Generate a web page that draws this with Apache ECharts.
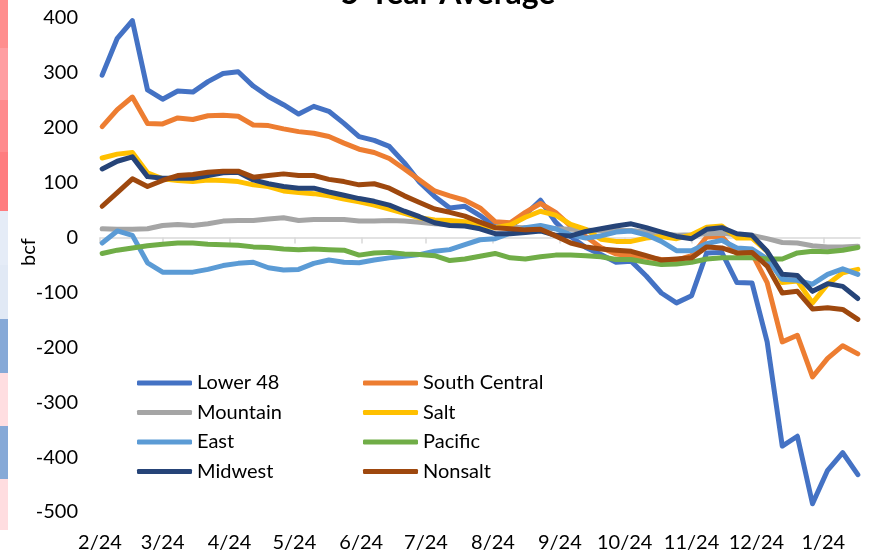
<!DOCTYPE html>
<html lang="en">
<head>
<meta charset="UTF-8">
<title>5-Year Average</title>
<style>
  html, body { margin: 0; padding: 0; background: #fff; }
  #main { width: 871px; height: 554px; }
</style>
</head>
<body>
<div id="main"></div>
<script src="https://cdn.jsdelivr.net/npm/echarts@6/dist/echarts.min.js"></script>
<script>
// weekly points, first report 2024-02-02, counted in days from 2024-02-01
const startDay = 1;
const weekCount = 51;
const weekDays = [];
for (let i = 0; i < weekCount; i++) weekDays.push(startDay + 7 * i);

// month ticks (days from 2024-02-01) and their labels
const monthDays = [0, 29, 60, 90, 121, 151, 182, 213, 243, 274, 304, 335];
const monthLabels = ['2/24', '3/24', '4/24', '5/24', '6/24', '7/24', '8/24', '9/24', '10/24', '11/24', '12/24', '1/24'];

const names = ['Lower 48', 'South Central', 'Mountain', 'Salt', 'East', 'Pacific', 'Midwest', 'Nonsalt'];
const colors = ['#4472C4', '#ED7D31', '#A5A5A5', '#FFC000', '#5B9BD5', '#70AD47', '#264478', '#9E480E'];

const lower48 = [296, 363, 395, 269, 252, 267, 265, 284, 299, 302, 276, 257, 242, 225, 239, 230, 208, 184, 177, 166,
  136, 101, 75, 54, 57, 40, 20, 19, 42, 68, 28, 2, -18, -31, -45, -43, -70, -101, -119, -106,
  -28, -27, -82, -83, -190, -380, -362, -485, -424, -392, -432];
const southCentral = [202, 233, 256, 208, 207, 218, 215, 222, 223, 221, 205, 204, 198, 193, 190, 184, 172, 161, 155, 144,
  125, 105, 85, 76, 68, 54, 29, 27, 46, 62, 46, 21, 2, -18, -30, -33, -36, -40, -41, -33,
  1, 2, -29, -29, -82, -190, -178, -254, -220, -197, -212];
const mountain = [16, 15, 15, 16, 22, 24, 22, 25, 30, 31, 31, 34, 36, 31, 33, 33, 33, 30, 30, 31,
  30, 28, 25, 24, 22, 21, 19, 19, 18, 18, 16, 15, 14, 12, 13, 13, 10, 7, 4, 5,
  7, 8, 5, 4, -2, -9, -10, -15, -17, -17, -16];
const salt = [145, 152, 155, 118, 107, 104, 102, 105, 104, 102, 96, 93, 85, 82, 80, 76, 70, 65, 59, 52,
  44, 36, 32, 31, 29, 23, 18, 23, 37, 48, 41, 24, 15, -3, -7, -7, -1, 2, -2, 5,
  19, 21, -1, -1, -25, -82, -79, -119, -85, -64, -58];
const east = [-10, 12, 4, -46, -63, -63, -63, -58, -51, -47, -45, -55, -59, -58, -47, -41, -45, -46, -41, -37,
  -34, -31, -25, -22, -13, -4, -2, 8, 18, 22, 16, 5, -1, 3, 10, 12, 5, -7, -24, -24,
  -11, -5, -19, -21, -39, -76, -78, -85, -67, -57, -67];
const pacific = [-29, -23, -19, -15, -12, -10, -10, -12, -13, -14, -17, -18, -21, -22, -21, -22, -23, -32, -28, -27,
  -30, -31, -33, -42, -39, -34, -29, -37, -39, -35, -32, -32, -33, -35, -40, -40, -45, -49, -48, -45,
  -39, -37, -37, -37, -39, -39, -28, -25, -26, -23, -18];
const midwest = [125, 139, 147, 111, 108, 108, 108, 113, 118, 119, 105, 98, 93, 90, 90, 83, 77, 71, 66, 59,
  48, 38, 27, 22, 21, 16, 7, 7, 9, 12, 4, 3, 11, 16, 21, 25, 18, 10, 2, -2,
  15, 18, 7, 4, -25, -67, -69, -98, -84, -89, -111];
const nonsalt = [57, 82, 107, 93, 104, 113, 115, 119, 121, 121, 110, 113, 116, 113, 113, 106, 102, 96, 98, 90,
  76, 64, 52, 46, 39, 28, 18, 16, 14, 15, 3, -10, -17, -21, -23, -25, -33, -41, -39, -37,
  -17, -19, -28, -27, -52, -101, -98, -130, -128, -131, -149];

const seriesValues = [lower48, southCentral, mountain, salt, east, pacific, midwest, nonsalt];

// the colour strip on the left edge of the screenshot
const stripColors = ['#FF8E8E', '#FF9EA2', '#FF8A8D', '#FF7C7F', '#E5ECF7', '#E1E9F5', '#86A9D7', '#FFDEE1', '#86A9D7', '#FFDDE0'];
const stripEdges = [0, 48, 100, 152, 211, 265, 319, 373, 426, 479, 530];

const FONT = 'Lato';

var chart = echarts.init(document.getElementById('main'));

const series = names.map((n, k) => ({
  name: n,
  type: 'line',
  xAxisIndex: 0,
  symbol: 'none',
  animation: false,
  lineStyle: { width: 5, color: colors[k], cap: 'round', join: 'round' },
  itemStyle: { color: colors[k] },
  data: seriesValues[k].map((v, i) => [weekDays[i], v])
}));

const legendBase = {
  orient: 'vertical',
  icon: 'roundRect',
  itemWidth: 55,
  itemHeight: 5,
  itemGap: 9.5,
  padding: 0,
  top: 373,
  textStyle: { fontFamily: FONT, fontSize: 20, color: '#000', lineHeight: 20 }
};

const strip = [];
for (let i = 0; i < stripColors.length; i++) {
  strip.push({
    type: 'rect',
    shape: { x: 0, y: stripEdges[i], width: 8, height: stripEdges[i + 1] - stripEdges[i] },
    style: { fill: stripColors[i] }
  });
}

var option = {
  animation: false,
  backgroundColor: '#fff',
  grid: { left: 100, right: 11, top: 18, bottom: 42, containLabel: false },
  legend: [
    Object.assign({}, legendBase, { left: 137, data: ['Lower 48', 'Mountain', 'East', 'Midwest'] }),
    Object.assign({}, legendBase, { left: 363, data: ['South Central', 'Salt', 'Pacific', 'Nonsalt'] })
  ],
  xAxis: [
    {
      type: 'value', min: 0, max: 352,
      axisLine: { show: true, onZero: true, lineStyle: { color: '#D9D9D9', width: 1.5 } },
      axisTick: { show: true, length: 6, customValues: monthDays, lineStyle: { color: '#D9D9D9', width: 1.5 } },
      axisLabel: { show: false },
      splitLine: { show: false }
    },
    {
      type: 'value', min: 0, max: 352, position: 'bottom',
      axisLine: { show: false, onZero: false },
      axisTick: { show: false },
      splitLine: { show: false },
      axisLabel: {
        customValues: monthDays,
        margin: 21,
        fontFamily: FONT, fontSize: 20, color: '#000',
        formatter: v => monthLabels[monthDays.indexOf(v)]
      }
    }
  ],
  yAxis: {
    type: 'value', min: -500, max: 400, interval: 100,
    axisLine: { show: false },
    axisTick: { show: false },
    splitLine: { show: false },
    axisLabel: { margin: 22, fontFamily: FONT, fontSize: 20, color: '#000' }
  },
  graphic: strip.concat([
    {
      type: 'text', x: 448, y: 10,
      style: { text: '5-Year Average', font: 'bold 32px ' + FONT, fill: '#000', align: 'center', verticalAlign: 'bottom' }
    },
    {
      type: 'text', x: 29, y: 252, rotation: Math.PI / 2,
      style: { text: 'bcf', font: '20px ' + FONT, fill: '#000', align: 'center', verticalAlign: 'middle' }
    }
  ]),
  series: series
};

chart.setOption(option);
</script>
</body>
</html>
